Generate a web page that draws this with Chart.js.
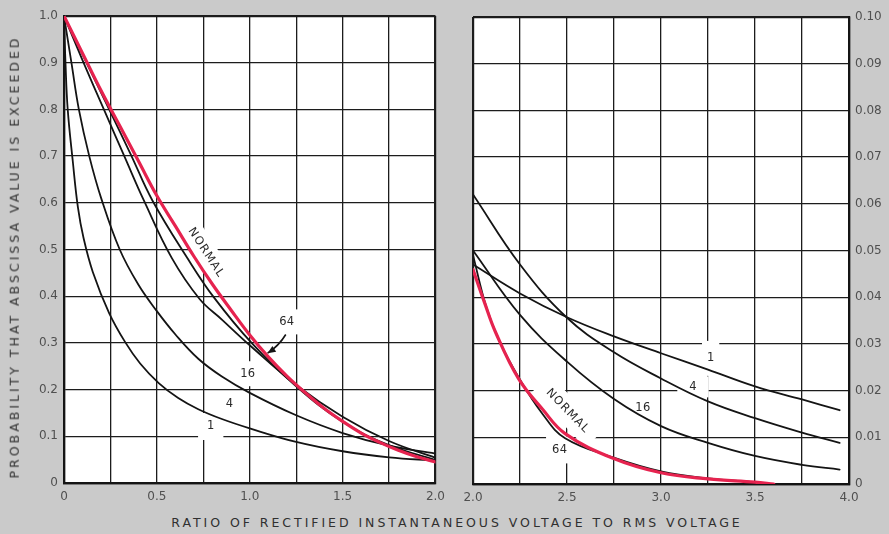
<!DOCTYPE html>
<html>
<head>
<meta charset="utf-8">
<script src="https://cdn.jsdelivr.net/npm/chart.js@4.4.1/dist/chart.umd.min.js"></script>
<style>
  html, body { margin:0; padding:0; }
  body { width:889px; height:534px; overflow:hidden; background:#cacaca; position:relative; font-family:"DejaVu Sans", sans-serif; }
  canvas { position:absolute; top:0; }
  #cl { left:0; }
  #cr { left:455px; }
  .ttl { position:absolute; white-space:nowrap; color:#303030; font-size:12.5px; line-height:1; }
  #ytitle { left:15px; top:257px; transform: translate(-50%,-50%) rotate(-90deg); }
  #xtitle { left:457px; top:523px; transform: translate(-50%,-50%); }
</style>
</head>
<body>
<canvas id="cl" width="452" height="512"></canvas>
<canvas id="cr" width="434" height="512"></canvas>
<div class="ttl" id="ytitle">PROBABILITY THAT ABSCISSA VALUE IS EXCEEDED</div>
<div class="ttl" id="xtitle">RATIO OF RECTIFIED INSTANTANEOUS VOLTAGE TO RMS VOLTAGE</div>
<script>
// ---------- DATA ----------
// Left panel: abscissa 0 .. 2.0, probability 0 .. 1.0
const leftNormalX = [0, 0.1, 0.2, 0.3, 0.4, 0.5, 0.6, 0.7, 0.8, 0.9, 1.0, 1.1, 1.2, 1.3, 1.4, 1.5, 1.6, 1.7, 1.8, 1.9, 2.0];
const leftNormalY = [1.0, 0.92, 0.84, 0.765, 0.69, 0.615, 0.55, 0.485, 0.425, 0.37, 0.317, 0.27, 0.229, 0.193, 0.16, 0.132, 0.107, 0.087, 0.07, 0.056, 0.045];
const left64X = [0, 0.109, 0.243, 0.358, 0.476, 0.67, 0.806, 1.01, 1.25, 1.5, 1.75, 2.0];
const left64Y = [1.0, 0.91, 0.80, 0.705, 0.605, 0.478, 0.398, 0.300, 0.207, 0.131, 0.081, 0.049];
const left16X = [0, 0.1, 0.22, 0.33, 0.43, 0.58, 0.73, 0.85, 1.0, 1.25, 1.5, 1.75, 2.0];
const left16Y = [1.0, 0.905, 0.795, 0.695, 0.605, 0.482, 0.394, 0.350, 0.295, 0.210, 0.142, 0.090, 0.054];
const left4X = [0, 0.04, 0.08, 0.136, 0.2, 0.3, 0.4, 0.5, 0.6, 0.723, 0.85, 1.0, 1.25, 1.5, 1.75, 2.0];
const left4Y = [1.0, 0.90, 0.80, 0.70, 0.61, 0.50, 0.425, 0.368, 0.318, 0.266, 0.228, 0.193, 0.145, 0.107, 0.080, 0.063];
const left1X = [0, 0.008, 0.02, 0.047, 0.075, 0.105, 0.155, 0.243, 0.332, 0.41, 0.51, 0.615, 0.723, 0.85, 1.0, 1.25, 1.5, 1.75, 2.0];
const left1Y = [1.0, 0.90, 0.80, 0.69, 0.59, 0.525, 0.452, 0.364, 0.300, 0.256, 0.214, 0.182, 0.158, 0.137, 0.117, 0.088, 0.068, 0.055, 0.048];

// Right panel: abscissa 2.0 .. 4.0, probability 0 .. 0.10
const rightNormalX = [2.0, 2.06, 2.12, 2.243, 2.37, 2.49, 2.745, 3.0, 3.25, 3.5, 3.6];
const rightNormalY = [0.0459, 0.039, 0.0325, 0.0225, 0.016, 0.0108, 0.0055, 0.0024, 0.0011, 0.0004, 0.0];
const right64X = [2.0, 2.07, 2.137, 2.243, 2.37, 2.49, 2.745, 3.0, 3.25, 3.5, 3.58];
const right64Y = [0.049, 0.038, 0.0309, 0.0228, 0.0150, 0.0098, 0.0057, 0.0027, 0.0012, 0.0004, 0.0];
const right16X = [2.0, 2.25, 2.5, 2.75, 3.0, 3.25, 3.5, 3.75, 3.95];
const right16Y = [0.050, 0.0362, 0.0262, 0.0182, 0.0124, 0.0088, 0.0060, 0.0041, 0.0031];
const right4X = [2.0, 2.25, 2.5, 2.75, 3.0, 3.25, 3.5, 3.75, 3.95];
const right4Y = [0.062, 0.047, 0.0356, 0.0282, 0.0226, 0.0177, 0.0141, 0.0110, 0.0088];
const right1X = [2.0, 2.25, 2.5, 2.75, 3.0, 3.25, 3.5, 3.75, 3.95];
const right1Y = [0.047, 0.0408, 0.0357, 0.0316, 0.0280, 0.0245, 0.0209, 0.0181, 0.0158];

// Tick settings
const leftXRange = [0, 2.0], rightXRange = [2.0, 4.0];
const leftYRange = [0, 1.0], rightYRange = [0, 0.10];
const xStep = 0.25, xLabelEvery = 0.5;
const leftYStep = 0.1, rightYStep = 0.01;

// Curve labels (data coordinates)
const leftLabels = [
  { text: 'NORMAL', x: 0.765, y: 0.493, rot: 57, padX: 8, padY: 7, sp: 1.2 },
  { text: '64', x: 1.20, y: 0.345, rot: 0, padX: 6, padY: 8, sp: 0.3 },
  { text: '16', x: 0.99, y: 0.234, rot: 0, padX: 5, padY: 8, sp: 0.3 },
  { text: '4', x: 0.89, y: 0.170, rot: 0, padX: 5, padY: 5, sp: 0 },
  { text: '1', x: 0.79, y: 0.121, rot: 0, padX: 9, padY: 9, sp: 0 }
];
const leftArrows = [ { x1: 1.194, y1: 0.318, x2: 1.096, y2: 0.278 } ];
const rightLabels = [
  { text: 'NORMAL', x: 2.504, y: 0.0156, rot: 46, padX: 10, padY: 8, sp: 1.2 },
  { text: '64', x: 2.461, y: 0.0073, rot: 0, padX: 6, padY: 9, sp: 0.3 },
  { text: '16', x: 2.904, y: 0.0162, rot: 0, padX: 5, padY: 6, sp: 0.3 },
  { text: '4', x: 3.17, y: 0.0208, rot: 0, padX: 12, padY: 6, sp: 0 },
  { text: '1', x: 3.264, y: 0.0269, rot: 0, padX: 5, padY: 13, sp: 0 }
];

// ---------- RENDERING ----------
const RED = '#e6234f', BLACK = '#141414', GRID = '#1c1c1c', TICK = '#505050';
const FONT = '"DejaVu Sans", sans-serif';

const pts = (xs, ys) => xs.map((x, i) => ({ x: x, y: ys[i] }));
const ds = (xs, ys, color, w) => ({
  data: pts(xs, ys), borderColor: color, borderWidth: w, pointRadius: 0,
  fill: false, tension: 0.4, borderCapStyle: 'round', borderJoinStyle: 'round'
});

const bgPlugin = {
  id: 'plotbg',
  beforeDraw(chart) {
    const a = chart.chartArea, ctx = chart.ctx;
    ctx.save(); ctx.fillStyle = '#ffffff';
    ctx.fillRect(a.left, a.top, a.width, a.height); ctx.restore();
  }
};

function setSpacing(ctx, s) { try { ctx.letterSpacing = s + 'px'; } catch (e) {} }

const annotPlugin = {
  id: 'annot',
  beforeDatasetsDraw(chart, args, opts) {
    const ctx = chart.ctx, a = chart.chartArea, xs = chart.scales.x, ys = chart.scales.y;
    ctx.save();
    ctx.beginPath(); ctx.rect(a.left + 1.5, a.top + 1.5, a.width - 3, a.height - 3); ctx.clip();
    ctx.font = '11.5px ' + FONT;
    ctx.fillStyle = '#ffffff';
    for (const L of (opts.labels || [])) {
      setSpacing(ctx, L.sp);
      const px = xs.getPixelForValue(L.x), py = ys.getPixelForValue(L.y);
      const w = ctx.measureText(L.text).width + 2 * L.padX, h = 9 + 2 * L.padY;
      ctx.save(); ctx.translate(px, py); ctx.rotate(L.rot * Math.PI / 180);
      ctx.fillRect(-w / 2, -h / 2, w, h); ctx.restore();
    }
    ctx.restore();
  },
  afterDatasetsDraw(chart, args, opts) {
    const ctx = chart.ctx, xs = chart.scales.x, ys = chart.scales.y;
    ctx.save();
    ctx.font = '11.5px ' + FONT;
    ctx.fillStyle = '#2a2a2a';
    ctx.textAlign = 'center'; ctx.textBaseline = 'middle';
    for (const L of (opts.labels || [])) {
      setSpacing(ctx, L.sp);
      const px = xs.getPixelForValue(L.x), py = ys.getPixelForValue(L.y);
      ctx.save(); ctx.translate(px, py); ctx.rotate(L.rot * Math.PI / 180);
      ctx.fillText(L.text, 0, 0); ctx.restore();
    }
    ctx.strokeStyle = BLACK; ctx.fillStyle = BLACK; ctx.lineWidth = 1.6;
    for (const A of (opts.arrows || [])) {
      const x1 = xs.getPixelForValue(A.x1), y1 = ys.getPixelForValue(A.y1);
      const x2 = xs.getPixelForValue(A.x2), y2 = ys.getPixelForValue(A.y2);
      const mx = (x1 + x2) / 2, my = (y1 + y2) / 2;
      const dx = x2 - x1, dy = y2 - y1, len = Math.hypot(dx, dy);
      const cx = mx + (-dy / len) * -3, cy = my + (dx / len) * -3;
      ctx.beginPath(); ctx.moveTo(x1, y1); ctx.quadraticCurveTo(cx, cy, x2, y2); ctx.stroke();
      const ang = Math.atan2(y2 - cy, x2 - cx), hl = 8, hw = 3.5;
      ctx.beginPath();
      ctx.moveTo(x2, y2);
      ctx.lineTo(x2 - hl * Math.cos(ang) + hw * Math.sin(ang), y2 - hl * Math.sin(ang) - hw * Math.cos(ang));
      ctx.lineTo(x2 - hl * Math.cos(ang) - hw * Math.sin(ang), y2 - hl * Math.sin(ang) + hw * Math.cos(ang));
      ctx.closePath(); ctx.fill();
    }
    ctx.restore();
  }
};

function edgeWidth(n) {
  return (c) => (c.index === 0 || c.index === n - 1) ? 2.2 : 1.3;
}
function xLabel(v) {
  const r = v / xLabelEvery;
  if (Math.abs(r - Math.round(r)) > 1e-6) return '';
  return Math.abs(v) < 1e-9 ? '0' : v.toFixed(1);
}

function makeChart(id, datasets, xr, yr, yStep, yDigits, yPos, pad, yWidth, xHeight, labels, arrows) {
  const nx = Math.round((xr[1] - xr[0]) / xStep) + 1;
  const ny = Math.round((yr[1] - yr[0]) / yStep) + 1;
  return new Chart(document.getElementById(id), {
    type: 'line',
    data: { datasets: datasets },
    options: {
      responsive: false, animation: false,
      layout: { padding: pad },
      plugins: { legend: { display: false }, tooltip: { enabled: false }, annot: { labels: labels, arrows: arrows } },
      scales: {
        x: {
          type: 'linear', min: xr[0], max: xr[1],
          ticks: { stepSize: xStep, autoSkip: false, maxRotation: 0, padding: 7, color: TICK, font: { family: FONT, size: 12 }, callback: xLabel },
          grid: { color: GRID, lineWidth: edgeWidth(nx), drawTicks: false },
          border: { display: true, color: BLACK, width: 2.2 },
          afterFit: (s) => { s.height = xHeight; }
        },
        y: {
          type: 'linear', position: yPos, min: yr[0], max: yr[1],
          ticks: { stepSize: yStep, autoSkip: false, padding: 6, color: TICK, font: { family: FONT, size: 12 },
                   callback: (v) => Math.abs(v) < 1e-9 ? '0' : v.toFixed(yDigits) },
          grid: { color: GRID, lineWidth: edgeWidth(ny), drawTicks: false },
          border: { display: true, color: BLACK, width: 2.2 },
          afterFit: (s) => { s.width = yWidth; }
        }
      }
    },
    plugins: [bgPlugin, annotPlugin]
  });
}

makeChart('cl', [
  ds(leftNormalX, leftNormalY, RED, 3.2),
  ds(left64X, left64Y, BLACK, 1.8),
  ds(left16X, left16Y, BLACK, 1.8),
  ds(left4X, left4Y, BLACK, 1.8),
  ds(left1X, left1Y, BLACK, 1.8)
], leftXRange, leftYRange, leftYStep, 1, 'left', { top: 16, right: 12, left: 0, bottom: 0 }, 64, 29, leftLabels, leftArrows);

makeChart('cr', [
  ds(rightNormalX, rightNormalY, RED, 3.2),
  ds(right64X, right64Y, BLACK, 1.8),
  ds(right16X, right16Y, BLACK, 1.8),
  ds(right4X, right4Y, BLACK, 1.8),
  ds(right1X, right1Y, BLACK, 1.8)
], rightXRange, rightYRange, rightYStep, 2, 'right', { top: 17, right: 0, left: 18, bottom: 0 }, 40, 28, rightLabels, []);

// Stretch titles to the reference's letter spacing
function fit(id, target) {
  const el = document.getElementById(id);
  el.style.letterSpacing = '0px';
  const w = el.offsetWidth, n = el.textContent.length;
  el.style.letterSpacing = ((target - w) / n).toFixed(2) + 'px';
}
fit('ytitle', 443);
fit('xtitle', 572);
</script>
</body>
</html>
